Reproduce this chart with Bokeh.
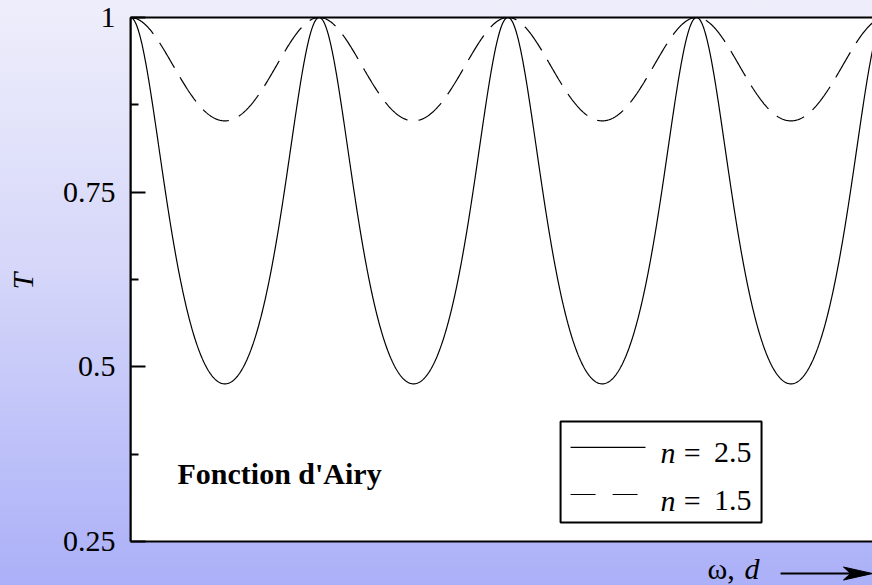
import numpy as np
from bokeh.plotting import figure
from bokeh.models import (Range1d, FixedTicker, Label, BoxAnnotation,
                          PolyAnnotation)
from bokeh.embed import file_html
from bokeh.resources import INLINE

# Refractive indices of the two slabs (legend values)
n_values = [2.5, 1.5]
n_texts = ["2.5", "1.5"]
line_dashes = ["solid", "29 11"]

# Phase axis, in units of pi
phase_min, phase_max = 0.0, 3.932

# Transmission axis
t_min, t_max = 0.25, 1.0
y_ticks = [0.25, 0.5, 0.75, 1.0]
y_tick_labels = ["0.25", "0.5", "0.75", "1"]
y_minor_ticks = [0.375, 0.625, 0.875]

SERIF = "Liberation Serif"
FS = "30px"
PX_Y = 698.7   # pixels per unit of T

# The frame also holds the caption strip under the plotting box,
# so the visible ranges reach a little past the drawn box.
y_view = (0.18705, 1.00429)


def lab(x, y, text, style="normal", align="left"):
    return Label(x=x, y=y, text=text, text_font=SERIF, text_font_style=style,
                 text_font_size=FS, text_align=align,
                 text_baseline="alphabetic", text_color="black")


p = figure(width=872, height=585, output_backend="svg", toolbar_location=None,
           x_range=Range1d(phase_min, phase_max), y_range=Range1d(*y_view),
           min_border_left=130, min_border_right=0, min_border_top=14,
           min_border_bottom=0)
p.grid.visible = False
p.outline_line_color = None
p.background_fill_alpha = 0
p.border_fill_alpha = 0
p.styles = {"background": "linear-gradient(180deg, #EEEEFB 0%, #D6D7F9 45%, #ABB0F8 100%)"}
p.xaxis.visible = False

# Left axis
ya = p.yaxis[0]
ya.bounds = (t_min, t_max)
ya.ticker = FixedTicker(ticks=y_ticks, minor_ticks=y_minor_ticks)
ya.major_label_overrides = {t: s for t, s in zip(y_ticks, y_tick_labels)}
ya.major_tick_in = 15
ya.major_tick_out = 0
ya.minor_tick_in = 8
ya.minor_tick_out = 0
ya.axis_line_width = 2
ya.major_tick_line_width = 2
ya.minor_tick_line_width = 2
ya.major_label_standoff = 15
ya.major_label_text_font = SERIF
ya.major_label_text_font_size = FS
ya.major_label_text_color = "black"
# leading no-break spaces centre the symbol on the drawn box, not the whole frame
ya.axis_label = "\u00a0" * 5 + "T"
ya.axis_label_text_font = SERIF
ya.axis_label_text_font_style = "italic"
ya.axis_label_text_font_size = FS
ya.axis_label_text_color = "black"
ya.axis_label_standoff = 21

# White plotting box (under the curves) and its border (over them)
box_right = phase_max + 0.2
p.add_layout(BoxAnnotation(left=phase_min, right=box_right, bottom=t_min, top=t_max,
                           fill_color="white", fill_alpha=1.0, line_color=None,
                           level="underlay"))
p.add_layout(BoxAnnotation(left=phase_min, right=box_right, bottom=t_min, top=t_max,
                           fill_color=None, fill_alpha=0, line_color="black",
                           line_alpha=1.0, line_width=2, level="overlay"))

# Airy transmission of a slab: T = 1 / (1 + F sin^2(phase))
phase = np.linspace(phase_min, phase_max, 1200)
for n, dash in zip(n_values, line_dashes):
    F = ((n ** 2 - 1) / (2 * n)) ** 2
    T = 1.0 / (1.0 + F * np.sin(np.pi * phase) ** 2)
    p.line(phase, T, line_color="black", line_width=1.2, line_dash=dash)

# Legend box
p.add_layout(BoxAnnotation(left=2.279, right=3.344, bottom=0.2772, top=0.4218,
                           fill_color=None, fill_alpha=0, line_color="black",
                           line_alpha=1.0, line_width=2, level="overlay"))
legend_y = [0.3846, 0.3173]
legend_text_y = [0.3774, 0.3087]
legend_x_end = [2.729, 2.698]
legend_dashes = ["solid", "25 17"]
for ly, ty, xe, dash, txt in zip(legend_y, legend_text_y, legend_x_end,
                                 legend_dashes, n_texts):
    p.line([2.332, xe], [ly, ly], line_color="black", line_width=1.2,
           line_dash=dash)
    p.add_layout(lab(2.809, ty, "n", style="italic"))
    p.add_layout(lab(2.932, ty, "="))
    p.add_layout(lab(3.291, ty, txt, align="right"))

# Title inside the box
p.add_layout(lab(0.790, 0.347, "Fonction d'Airy", style="bold", align="center"))

# Horizontal axis caption with arrow
cap_y = 0.2114
p.add_layout(lab(3.058, cap_y, "ω,"))
p.add_layout(lab(3.254, cap_y, "d", style="italic"))

arrow_y = 0.2042
half_shaft = 1.0 / PX_Y
half_head = 6.5 / PX_Y
shaft_x0, shaft_x1 = 3.445, 3.826
head_back, head_notch, head_tip = 3.778, 3.816, phase_max
p.add_layout(PolyAnnotation(
    xs=[shaft_x0, shaft_x1, shaft_x1, shaft_x0],
    ys=[arrow_y - half_shaft, arrow_y - half_shaft, arrow_y + half_shaft, arrow_y + half_shaft],
    fill_color="black", fill_alpha=1.0, line_color=None))
p.add_layout(PolyAnnotation(
    xs=[head_back, head_tip, head_back, head_notch],
    ys=[arrow_y + half_head, arrow_y, arrow_y - half_head, arrow_y],
    fill_color="black", fill_alpha=1.0, line_color="black", line_alpha=1.0,
    line_width=1))

open("out.html", "w").write(file_html(p, INLINE))
